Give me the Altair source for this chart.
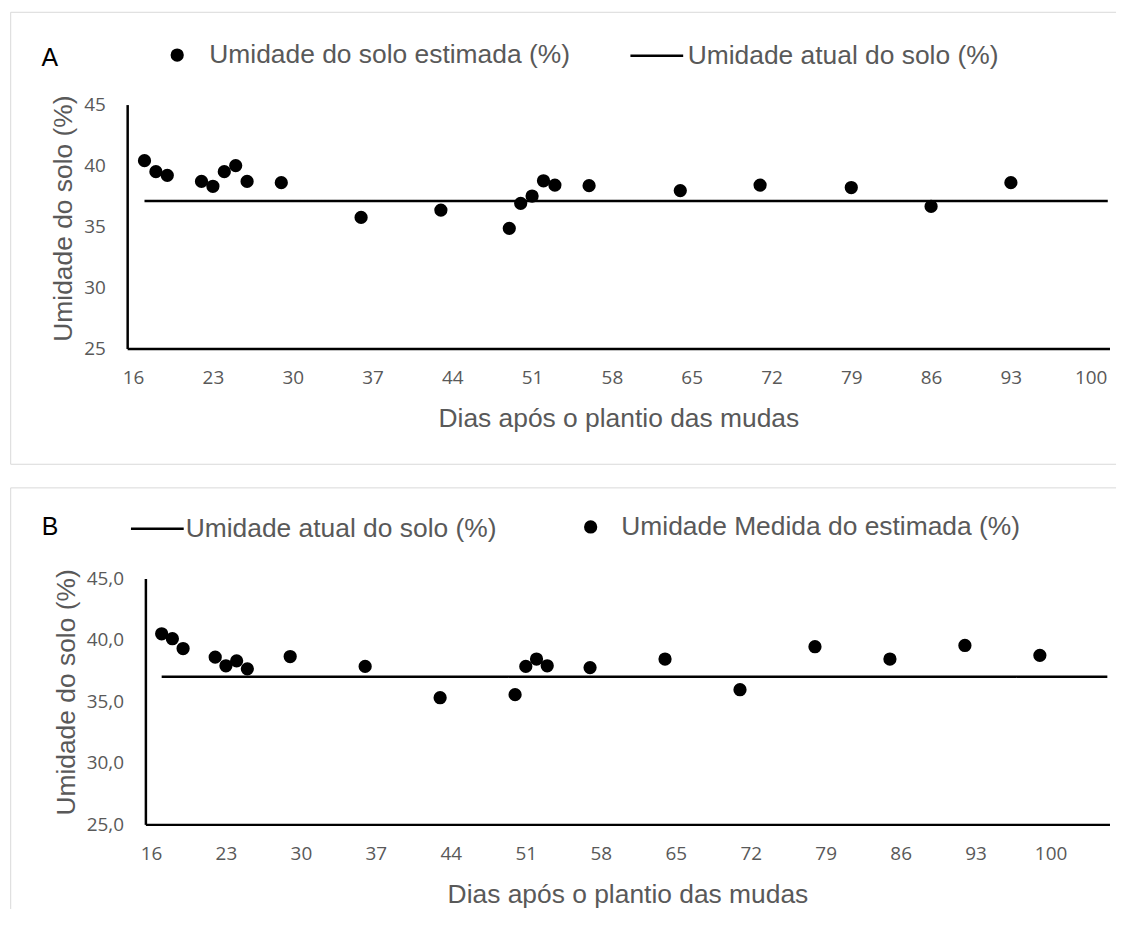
import altair as alt
import pandas as pd

# ---------------- data ----------------
# Panel A
dias_a = [17, 18, 19, 22, 23, 24, 25, 26, 29, 36, 43, 49, 50, 51, 52, 53, 56, 64, 71, 79, 86, 93]
estimada_a = [40.4, 39.5, 39.2, 38.7, 38.3, 39.5, 40.0, 38.7, 38.6, 35.75, 36.35, 34.85,
              36.9, 37.5, 38.75, 38.4, 38.35, 37.95, 38.4, 38.2, 36.65, 38.6]
atual_dias_a = [17, 101.5]
atual_a = [37.1, 37.1]

# Panel B
dias_b = [17, 18, 19, 22, 23, 24, 25, 29, 36, 43, 50, 51, 52, 53, 57, 64, 71, 78, 85, 92, 99]
estimada_b = [40.5, 40.1, 39.3, 38.6, 37.9, 38.3, 37.65, 38.65, 37.85, 35.3, 35.55,
              37.85, 38.45, 37.9, 37.75, 38.45, 35.95, 39.45, 38.45, 39.55, 38.75]
atual_dias_b = [17, 105.3]
atual_b = [37.0, 37.0]

x_ticks = [16, 23, 30, 37, 44, 51, 58, 65, 72, 79, 86, 93, 100]
y_ticks = [25, 30, 35, 40, 45]

serie_est_a = "Umidade do solo estimada (%)"
serie_atual = "Umidade atual do solo (%)"
serie_est_b = "Umidade Medida do estimada (%)"

GRAY = "#595959"
BORDER = "#d9d9d9"
TXT_FONT = "Liberation Sans"
NUM_FONT = "Open Sans"
W = 968


def legend(x, y, size, offset):
    return alt.Legend(
        orient="none", legendX=x, legendY=y, direction="horizontal", title=None,
        labelFont=TXT_FONT, labelFontSize=26.5, labelColor=GRAY, labelLimit=900,
        symbolSize=size, symbolFillColor="black", symbolStrokeColor="black",
        symbolStrokeWidth=2.5, symbolOpacity=1, labelOffset=offset, padding=0,
    )


def border(one, x, x2, y, y2):
    enc = {"x": alt.value(x), "y": alt.value(y)}
    if x2 is not None:
        enc["x2"] = alt.value(x2)
    if y2 is not None:
        enc["y2"] = alt.value(y2)
    return alt.Chart(one).mark_rule(color=BORDER, strokeWidth=1).encode(**enc)


def panel(tag, tag_xy, dias, est, est_name, ad, av, xdom, xrange, yoff, height,
          ylabel_expr, leg_pts, leg_line, frame):
    pts = pd.DataFrame({"dia": dias, "umid": est, "serie": est_name})
    lin = pd.DataFrame({"dia": ad, "umid": av, "serie": serie_atual})
    one = pd.DataFrame({"k": [0]})

    xscale = alt.Scale(domain=xdom, range=xrange, nice=False, zero=False)
    yscale = alt.Scale(domain=[25, 45], nice=False, zero=False)
    xaxis = alt.Axis(values=x_ticks, title="Dias após o plantio das mudas",
                     labelPadding=20, titlePadding=18, format="d")
    yaxis = alt.Axis(values=y_ticks, title="Umidade do solo (%)", offset=yoff,
                     labelPadding=22, titlePadding=6, labelExpr=ylabel_expr,
                     titleY=114)

    left, right, top, bottom, draw_bottom = frame
    layers = [
        border(one, left, None, top, bottom),
        border(one, left, right, top, None),
    ]
    if draw_bottom:
        layers.append(border(one, left, right, bottom, None))

    line = alt.Chart(lin).mark_line(color="black", strokeWidth=2.5).encode(
        x=alt.X("dia:Q", scale=xscale, axis=xaxis),
        y=alt.Y("umid:Q", scale=yscale, axis=yaxis),
        strokeDash=alt.StrokeDash("serie:N",
                                  scale=alt.Scale(domain=[serie_atual], range=[[1, 0]]),
                                  legend=legend(*leg_line)),
    )
    points = alt.Chart(pts).mark_point(filled=True, size=177, color="black", opacity=1).encode(
        x=alt.X("dia:Q", scale=xscale, axis=xaxis),
        y=alt.Y("umid:Q", scale=yscale, axis=yaxis),
        shape=alt.Shape("serie:N", scale=alt.Scale(domain=[est_name], range=["circle"]),
                        legend=legend(*leg_pts)),
    )
    txt = alt.Chart(one).mark_text(text=tag, font=TXT_FONT, fontSize=25, color="black",
                                   align="left", baseline="middle").encode(
        x=alt.value(tag_xy[0]), y=alt.value(tag_xy[1]))

    layers += [line, points, txt]
    return alt.layer(*layers).properties(width=W, height=height)


# both panels share the same origin (B's y axis); panel A's axis sits 18.3 px further left
chart_a = panel(
    "A", (-104.3, -47), dias_a, estimada_a, serie_est_a, atual_dias_a, atual_a,
    [15.48, 101.65], [-18.3, 968.4], 18.3, 245, "format(datum.value, 'd')",
    leg_pts=(18.7, -63, 177, 19), leg_line=(485.7, -77, 2809, 3),
    frame=(-135.3, 975, -92.7, 361.3, True),
)
chart_b = panel(
    "B", (-104, -52), dias_b, estimada_b, serie_est_b, atual_dias_b, atual_b,
    [15.48, 105.5], [0, 968.4], 0, 247, "replace(format(datum.value, '.1f'), '.', ',')",
    leg_pts=(434, -65, 177, 17.5), leg_line=(-16, -78, 2809, 0.5),
    frame=(-135.3, 975, -91, 332, False),
)

chart = alt.vconcat(chart_a, chart_b, spacing=21).resolve_scale(
    x="independent", y="independent", shape="independent", strokeDash="independent"
).properties(
    padding={"left": 1, "top": 1, "right": 0, "bottom": 0}
).configure_view(
    stroke="transparent"
).configure_axis(
    domainColor="black", domainWidth=2.5, ticks=False, grid=False,
    labelFont=NUM_FONT, labelFontSize=19, labelColor=GRAY,
    titleFont=TXT_FONT, titleFontSize=26.5, titleColor=GRAY, titleFontWeight="normal",
)

chart.save("out.html", embed_options={"renderer": "svg", "actions": False})
